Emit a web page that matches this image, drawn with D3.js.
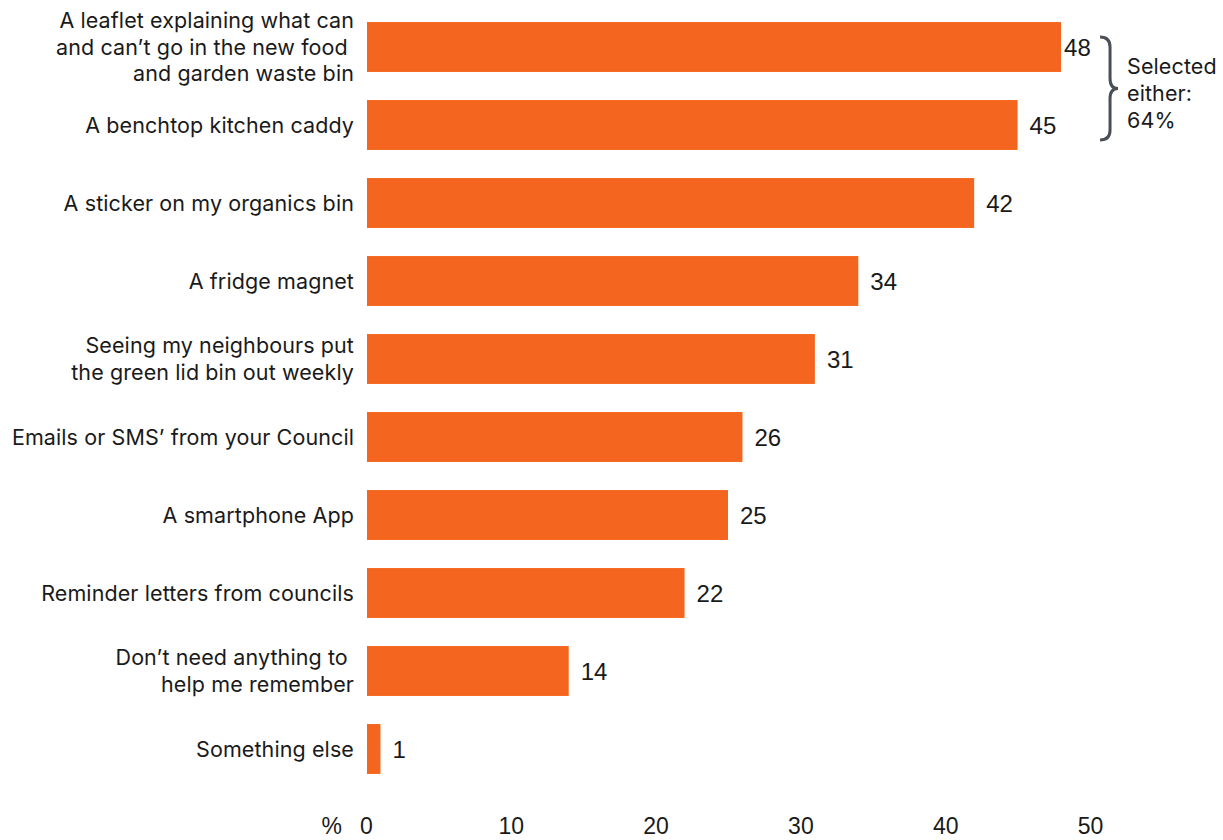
<!DOCTYPE html>
<html><head><meta charset="utf-8">
<script src="https://cdn.jsdelivr.net/npm/d3@7"></script>
<style>
body{margin:0;background:#fff;}
svg{display:block;}
</style>
</head><body>
<svg id="chart" width="1223" height="840"></svg>
<script>
const categories = [
  ["A leaflet explaining what can", "and can\u2019t go in the new food ", "and garden waste bin"],
  ["A benchtop kitchen caddy"],
  ["A sticker on my organics bin"],
  ["A fridge magnet"],
  ["Seeing my neighbours put", "the green lid bin out weekly"],
  ["Emails or SMS\u2019 from your Council"],
  ["A smartphone App"],
  ["Reminder letters from councils"],
  ["Don\u2019t need anything to ", "help me remember"],
  ["Something else"]
];
const values = [48, 45, 42, 34, 31, 26, 25, 22, 14, 1];
const tickValues = [0, 10, 20, 30, 40, 50];
const braceText = ["Selected", "either:", "64%"];

(function () {
const svg = d3.select("#chart");
const x = d3.scaleLinear().domain([0, 50]).range([366, 1090]);
const y = d3.scaleBand().domain(d3.range(values.length)).range([8, 788]).paddingInner(0.36).paddingOuter(0.18);

const labelFont = "Inter, 'Noto Sans', sans-serif";
const numFont = "'Liberation Sans', Arial, sans-serif";

svg.selectAll("rect.bar").data(values).join("rect")
  .attr("class", "bar")
  .attr("x", x(0) + 1)
  .attr("y", (d, i) => y(i))
  .attr("width", d => x(d) - x(0) - 1)
  .attr("height", y.bandwidth())
  .attr("fill", "#F4661F");

const lh = 26.5;
categories.forEach((lines, i) => {
  const cy = y(i) + y.bandwidth() / 2;
  const t = svg.append("text")
    .attr("text-anchor", "end")
    .attr("font-family", labelFont)
    .attr("font-size", 21.5)
    .attr("letter-spacing", 0.1)
    .attr("fill", "#1a1a1a")
    .style("white-space", "pre");
  lines.forEach((ln, j) => {
    t.append("tspan")
      .attr("x", 354)
      .attr("y", cy + (j - (lines.length - 1) / 2) * lh)
      .attr("dy", "0.35em")
      .text(ln);
  });
});

svg.selectAll("text.val").data(values).join("text")
  .attr("class", "val")
  .attr("x", (d, i) => x(d) + (i === 0 ? 3 : 12))
  .attr("y", (d, i) => y(i) + y.bandwidth() / 2)
  .attr("dy", "0.36em")
  .attr("font-family", numFont)
  .attr("font-size", 24)
  .attr("fill", "#1a1a1a")
  .text(d => d);

const axisFont = "'Liberation Sans Narrow', 'Liberation Sans', Arial, sans-serif";
const axisY = 818;
const axis = svg.append("g")
  .attr("transform", `translate(0,${axisY})`)
  .call(d3.axisBottom(x).tickValues(tickValues).tickSize(0).tickPadding(0));
axis.select(".domain").remove();
axis.selectAll("text")
  .attr("font-family", axisFont)
  .attr("font-size", 23)
  .attr("fill", "#1a1a1a")
  .attr("dy", "0.71em");
svg.append("text")
  .attr("x", x(0) - 24)
  .attr("y", axisY)
  .attr("dy", "0.71em")
  .attr("text-anchor", "end")
  .attr("font-family", axisFont)
  .attr("font-size", 23)
  .attr("fill", "#1a1a1a")
  .text("%");

const bTop = y(0) + 15, bBot = y(1) + y.bandwidth() - 10;
const mid = (bTop + bBot) / 2;
const bx = x(values[0]) + 49;
const r = 10;
svg.append("path")
  .attr("d", `M${bx - 10},${bTop} Q${bx},${bTop} ${bx},${bTop + r} L${bx},${mid - r} Q${bx},${mid} ${bx + 8},${mid} Q${bx},${mid} ${bx},${mid + r} L${bx},${bBot - r} Q${bx},${bBot} ${bx - 10},${bBot}`)
  .attr("fill", "none")
  .attr("stroke", "#4a4f55")
  .attr("stroke-width", 3);

const bt = svg.append("text")
  .attr("font-family", labelFont)
  .attr("font-size", 21.5)
  .attr("letter-spacing", 0.1)
  .attr("fill", "#1a1a1a");
braceText.forEach((ln, j) => {
  bt.append("tspan").attr("x", bx + 17).attr("y", mid + 5 + (j - 1) * 27).attr("dy", "0.35em").text(ln);
});
})();
</script>
</body></html>
